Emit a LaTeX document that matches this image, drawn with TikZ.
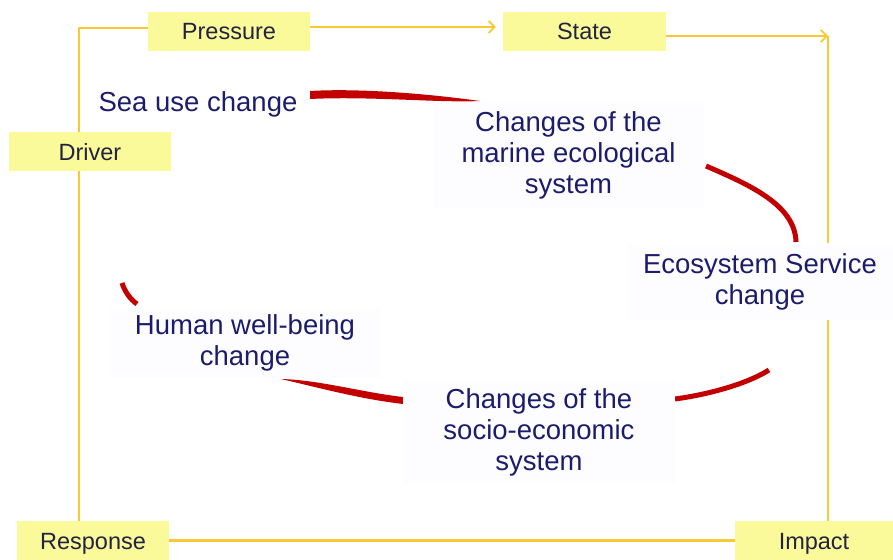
\documentclass[tikz,border=0pt]{standalone}
\usepackage{fontspec}
\setmainfont{Liberation Sans}
\usetikzlibrary{arrows.meta}
\pgfdeclarelayer{bg}
\pgfsetlayers{bg,main}
\definecolor{ybox}{RGB}{250,250,155}
\definecolor{yline}{RGB}{250,200,50}
\definecolor{navy}{RGB}{28,28,108}
\definecolor{lbl}{RGB}{35,35,65}
\definecolor{rd}{RGB}{195,0,0}
\definecolor{wbox}{RGB}{253,253,255}
\begin{document}
\begin{tikzpicture}[x=1pt,y=-1pt,
 lab/.style={fill=ybox, minimum height=39pt, inner sep=0pt, text=lbl, font=\fontsize{23.5}{28}\selectfont, text height=17pt, text depth=0pt},
 txt/.style={fill=wbox, inner sep=0pt, text=navy, align=center, font=\fontsize{27.5}{31}\selectfont},
 yl/.style={draw=yline, line width=2.4pt},
 arr/.style={-{Straight Barb[length=6pt,width=12pt,line width=1.7pt]}},
 rl/.style={draw=rd, line width=5pt},
 rf/.style={fill=rd},
]
\useasboundingbox (0,0) rectangle (893,559);
% label boxes
\node[lab, minimum width=162pt] (pres) at (229,31.5) {Pressure};
\node[lab, minimum width=163pt] (state) at (584.5,31.5) {State};
\node[lab, minimum width=162pt] (driver) at (90,151.5) {Driver};
\node[lab, minimum width=152pt] (resp) at (93,540.5) {Response};
\node[lab, minimum width=158pt] (impact) at (814,540.5) {Impact};
% text nodes
\node[anchor=base, text=navy, font=\fontsize{27.5}{31}\selectfont, inner sep=0pt] (sea) at (198,111) {Sea use change};
\node[txt, minimum width=271pt, minimum height=105pt] (marine) at (568.5,155.5) {Changes of the\\marine ecological\\system};
\node[txt, minimum width=266pt, minimum height=77pt] (eco) at (760,281.5) {Ecosystem Service\\change};
\node[txt, minimum width=270pt, minimum height=71pt] (human) at (245,342.5) {Human well-being\\change};
\node[txt, minimum width=272pt, minimum height=105pt] (socio) at (539,432.5) {Changes of the\\socio-economic\\system};
% coordinates
\coordinate (tl) at (79,28);
\coordinate (tr) at (828,36);
\coordinate (r1a) at (310,91);
\coordinate (r1b) at (480,101);
\coordinate (r1c) at (310,99);
\coordinate (r2a) at (706,166);
\coordinate (r2b) at (796,242);
\coordinate (r3a) at (675,399);
\coordinate (r3b) at (769,370);
\coordinate (r4a) at (281,379);
\coordinate (r4b) at (403,397);
\coordinate (r4c) at (403,404);
\coordinate (r5a) at (122,283);
\coordinate (r5b) at (137,304);
\begin{pgfonlayer}{bg}
% yellow frame
\draw[yl] (driver.north -| tl) -- (tl) -- (pres.west |- tl);
\draw[yl] (driver.south -| tl) -- (resp.north -| tl);
\draw[yl, arr] (pres.east |- 0,27) -- ([xshift=-7pt]state.west |- 0,27);
\draw[yl, arr] (state.east |- tr) -- (tr);
\draw[yl] (tr) -- (impact.north -| tr);
\draw[yl] (resp.east) -- (impact.west);
% red curves
\fill[rf] (r1a) .. controls (360,88) and (430,94) .. (r1b) .. controls (440,103) and (370,96) .. (r1c) -- cycle;
\draw[rl] (r2a) .. controls (750,185) and (795,205) .. (r2b);
\draw[rl] (r3a) .. controls (705,395) and (745,385) .. (r3b);
\fill[rf] (r4a) .. controls (320,380) and (360,392) .. (r4b) -- (r4c) .. controls (360,399) and (320,388) .. (r4a) -- cycle;
\draw[rl] (r5a) .. controls (125,292) and (130,299) .. (r5b);
\end{pgfonlayer}
\end{tikzpicture}
\end{document}
